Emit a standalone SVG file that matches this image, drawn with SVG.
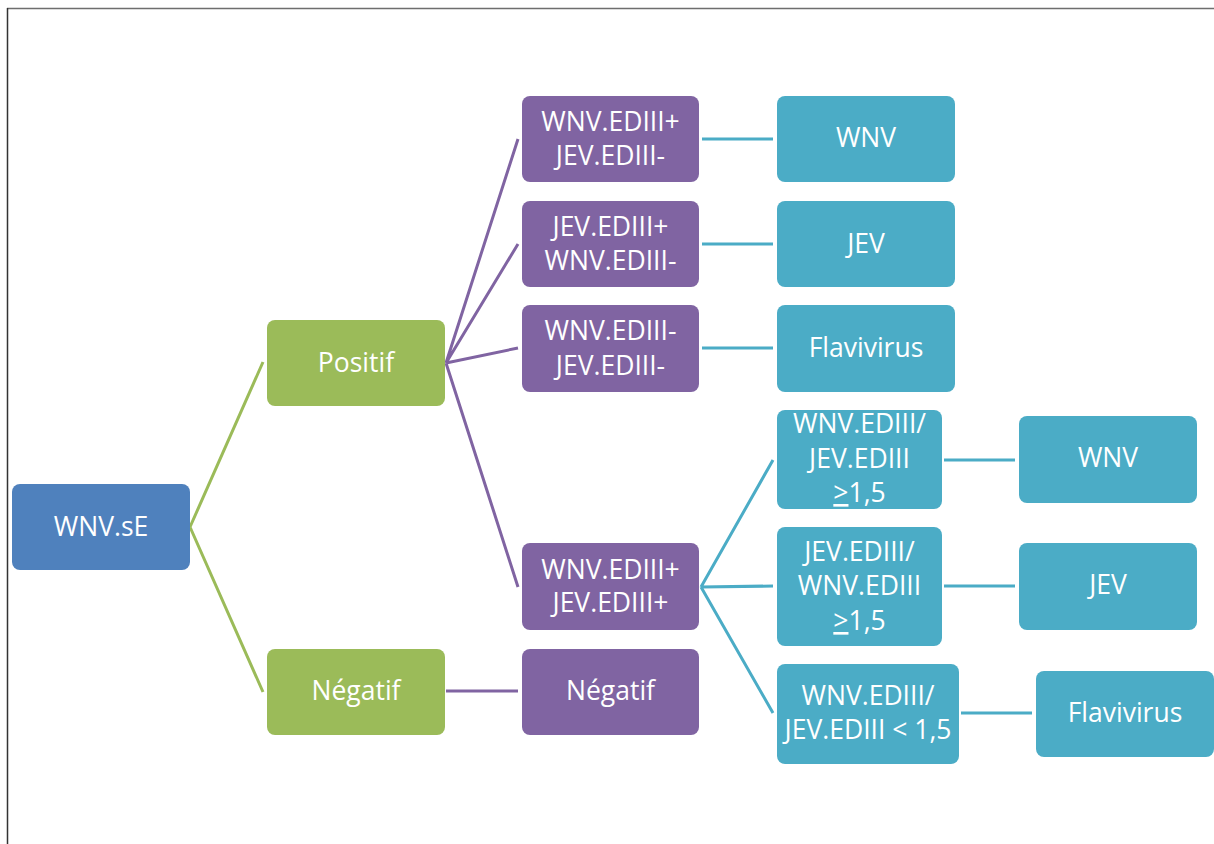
<svg xmlns="http://www.w3.org/2000/svg" width="1214" height="844" viewBox="0 0 1214 844">
<style>
.box{stroke:none}
.blue{fill:#4F81BD}
.green{fill:#9BBB59}
.purple{fill:#8064A2}
.teal{fill:#4BACC6}
text{font-family:"Open Sans","Liberation Sans",sans-serif;font-size:26.5px;fill:#ffffff;text-anchor:middle}
.cg{stroke:#9BBB59;stroke-width:3;fill:none}
.cp{stroke:#8064A2;stroke-width:3;fill:none}
.ct{stroke:#4BACC6;stroke-width:3;fill:none}
.u{text-decoration:underline}
</style>
<rect width="1214" height="844" fill="#ffffff"/>
<line x1="7" y1="8.5" x2="1214" y2="8.5" stroke="#6e6e6e" stroke-width="1.5"/>
<line x1="7.5" y1="8" x2="7.5" y2="844" stroke="#333333" stroke-width="1.5"/>
<g id="connectors">
<path class="cg" d="M190 527 L263 362 M190 527 L263 692"/>
<path class="cp" d="M446 363 L518 139 M446 363 L518 244 M446 363 L518 348 M446 363 L518 587 M446 691 L518 691"/>
<path class="ct" d="M702 139 H773 M702 244 H773 M702 348 H773 M701 587 L773 460 M701 587 L773 586 M701 587 L773 713 M944 460 H1015 M944 586 H1015 M961 713 H1032"/>
</g>
<g id="n-wnvse"><rect class="box blue" x="12" y="484" width="178" height="86" rx="8"/><text x="101" y="536">WNV.sE</text></g>
<g id="n-positif"><rect class="box green" x="267" y="320" width="178" height="86" rx="8"/><text x="356" y="372">Positif</text></g>
<g id="n-negatif1"><rect class="box green" x="267" y="649" width="178" height="86" rx="8"/><text x="356" y="700">Négatif</text></g>
<g id="n-p1"><rect class="box purple" x="522" y="96" width="177" height="86" rx="8"/><text x="610.5" y="131">WNV.EDIII+</text><text x="610.5" y="165">JEV.EDIII-</text></g>
<g id="n-p2"><rect class="box purple" x="522" y="201" width="177" height="86" rx="8"/><text x="610.5" y="236">JEV.EDIII+</text><text x="610.5" y="270">WNV.EDIII-</text></g>
<g id="n-p3"><rect class="box purple" x="522" y="305" width="177" height="87" rx="8"/><text x="610.5" y="340">WNV.EDIII-</text><text x="610.5" y="375">JEV.EDIII-</text></g>
<g id="n-p4"><rect class="box purple" x="522" y="543" width="177" height="87" rx="8"/><text x="610.5" y="579">WNV.EDIII+</text><text x="610.5" y="612">JEV.EDIII+</text></g>
<g id="n-negatif2"><rect class="box purple" x="522" y="649" width="177" height="86" rx="8"/><text x="610.5" y="700">Négatif</text></g>
<g id="n-t-wnv"><rect class="box teal" x="777" y="96" width="178" height="86" rx="8"/><text x="866" y="147">WNV</text></g>
<g id="n-t-jev"><rect class="box teal" x="777" y="201" width="178" height="86" rx="8"/><text x="866" y="253">JEV</text></g>
<g id="n-t-flavi"><rect class="box teal" x="777" y="305" width="178" height="87" rx="8"/><text x="866" y="357">Flavivirus</text></g>
<g id="n-r1"><rect class="box teal" x="777" y="410" width="165" height="99" rx="8"/><text x="859.5" y="433">WNV.EDIII/</text><text x="859.5" y="468">JEV.EDIII</text><text x="859.5" y="502"><tspan class="u">&gt;</tspan>1,5</text></g>
<g id="n-r2"><rect class="box teal" x="777" y="527" width="165" height="119" rx="8"/><text x="859.5" y="561">JEV.EDIII/</text><text x="859.5" y="595">WNV.EDIII</text><text x="859.5" y="630"><tspan class="u">&gt;</tspan>1,5</text></g>
<g id="n-r3"><rect class="box teal" x="777" y="664" width="182" height="100" rx="8"/><text x="868" y="705">WNV.EDIII/</text><text x="868" y="739">JEV.EDIII &lt; 1,5</text></g>
<g id="n-wnv2"><rect class="box teal" x="1019" y="416" width="178" height="87" rx="8"/><text x="1108" y="467">WNV</text></g>
<g id="n-jev2"><rect class="box teal" x="1019" y="543" width="178" height="87" rx="8"/><text x="1108" y="594">JEV</text></g>
<g id="n-flavi2"><rect class="box teal" x="1036" y="671" width="178" height="86" rx="8"/><text x="1125" y="722">Flavivirus</text></g>
</svg>
